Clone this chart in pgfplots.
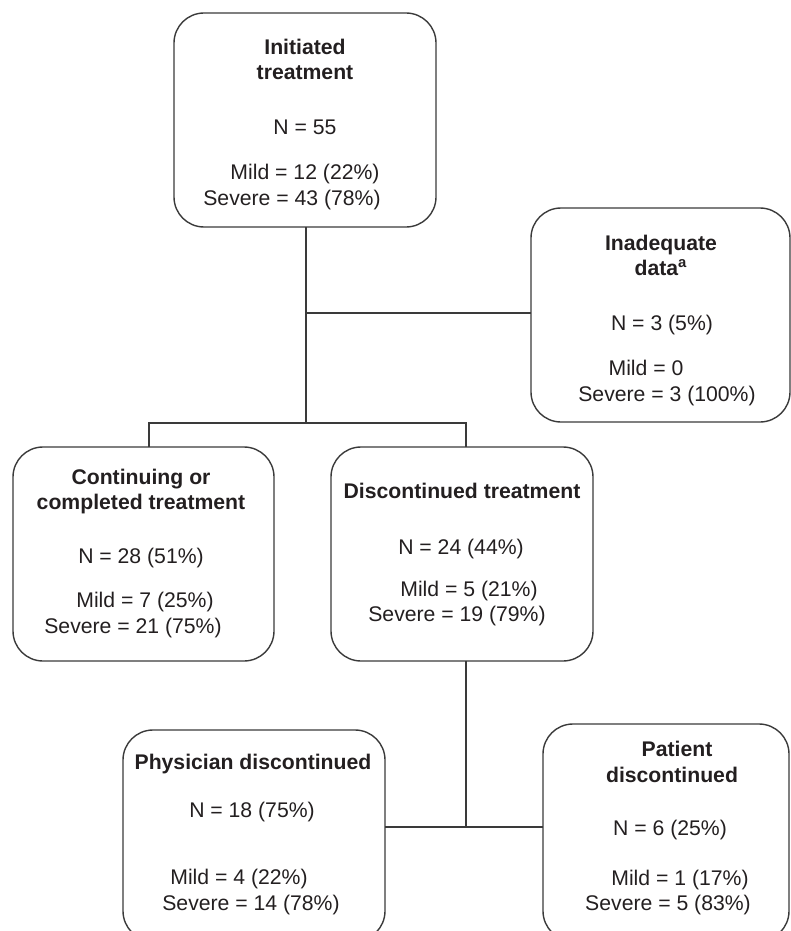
\documentclass[border=0pt]{standalone}
\usepackage{pgfplots}
\pgfplotsset{compat=1.18}
\usepackage{fontspec}
\setmainfont{Liberation Sans}
\definecolor{ink}{HTML}{231F20}
\definecolor{edge}{HTML}{3A3A3A}
\newcommand\fs{\fontsize{10.6}{12.7}\selectfont}
\tikzset{
  txt/.style={anchor=base, yshift=-3.8pt, font=\fs, text=ink, inner sep=0pt},
  bt/.style={anchor=base, yshift=-3.8pt, font=\fs\bfseries, text=ink, inner sep=0pt},
  box/.style={draw=edge, line width=0.7pt, rounded corners=15pt},
  conn/.style={draw=edge, line width=0.7pt, no markers}
}
\begin{document}
\begin{tikzpicture}
\begin{axis}[
  width=395.5pt, height=465.5pt, scale only axis,
  xmin=0, xmax=791, ymin=0, ymax=931, y dir=reverse,
  hide axis, clip=false]
\path (axis cs:0,0) rectangle (axis cs:791,931);
% connectors
\addplot[conn] coordinates {(306,227) (306,423)};
\addplot[conn] coordinates {(306,313) (531,313)};
\addplot[conn] coordinates {(149,447) (149,423) (466,423) (466,447)};
\addplot[conn] coordinates {(466,661) (466,827)};
\addplot[conn] coordinates {(385,827) (543,827)};
% boxes
\draw[box] (axis cs:174,13) rectangle (axis cs:436,227);
\draw[box] (axis cs:531,208) rectangle (axis cs:790,422);
\draw[box] (axis cs:13,447) rectangle (axis cs:274,661);
\draw[box] (axis cs:331,447) rectangle (axis cs:593,661);
\draw[box, overlay] (axis cs:123,730) rectangle (axis cs:385,941);
\draw[box, overlay] (axis cs:543,724) rectangle (axis cs:789,941);
% box 1
\node[bt] at (axis cs:305,47) {Initiated};
\node[bt] at (axis cs:305,72) {treatment};
\node[txt] at (axis cs:305,127) {N = 55};
\node[txt] at (axis cs:305,172) {Mild = 12 (22\%)};
\node[txt] at (axis cs:292,198) {Severe = 43 (78\%)};
% box 2
\node[bt] at (axis cs:661,243) {Inadequate};
\node[bt] at (axis cs:661,268) {data\textsuperscript{a}};
\node[txt] at (axis cs:662,323) {N = 3 (5\%)};
\node[txt] at (axis cs:646,368) {Mild = 0};
\node[txt] at (axis cs:667,394) {Severe = 3 (100\%)};
% box 3
\node[bt] at (axis cs:141,477) {Continuing or};
\node[bt] at (axis cs:141,502) {completed treatment};
\node[txt] at (axis cs:141,556) {N = 28 (51\%)};
\node[txt] at (axis cs:145,600) {Mild = 7 (25\%)};
\node[txt] at (axis cs:133,626) {Severe = 21 (75\%)};
% box 4
\node[bt] at (axis cs:462,491) {Discontinued treatment};
\node[txt] at (axis cs:461,547) {N = 24 (44\%)};
\node[txt] at (axis cs:469,589) {Mild = 5 (21\%)};
\node[txt] at (axis cs:457,614) {Severe = 19 (79\%)};
% box 5
\node[bt] at (axis cs:253,762) {Physician discontinued};
\node[txt] at (axis cs:252,810) {N = 18 (75\%)};
\node[txt] at (axis cs:239,877) {Mild = 4 (22\%)};
\node[txt] at (axis cs:251,903) {Severe = 14 (78\%)};
% box 6
\node[bt] at (axis cs:677,749) {Patient};
\node[bt] at (axis cs:672,775) {discontinued};
\node[txt] at (axis cs:670,828) {N = 6 (25\%)};
\node[txt] at (axis cs:680,878) {Mild = 1 (17\%)};
\node[txt] at (axis cs:668,903) {Severe = 5 (83\%)};
\end{axis}
\end{tikzpicture}
\end{document}
